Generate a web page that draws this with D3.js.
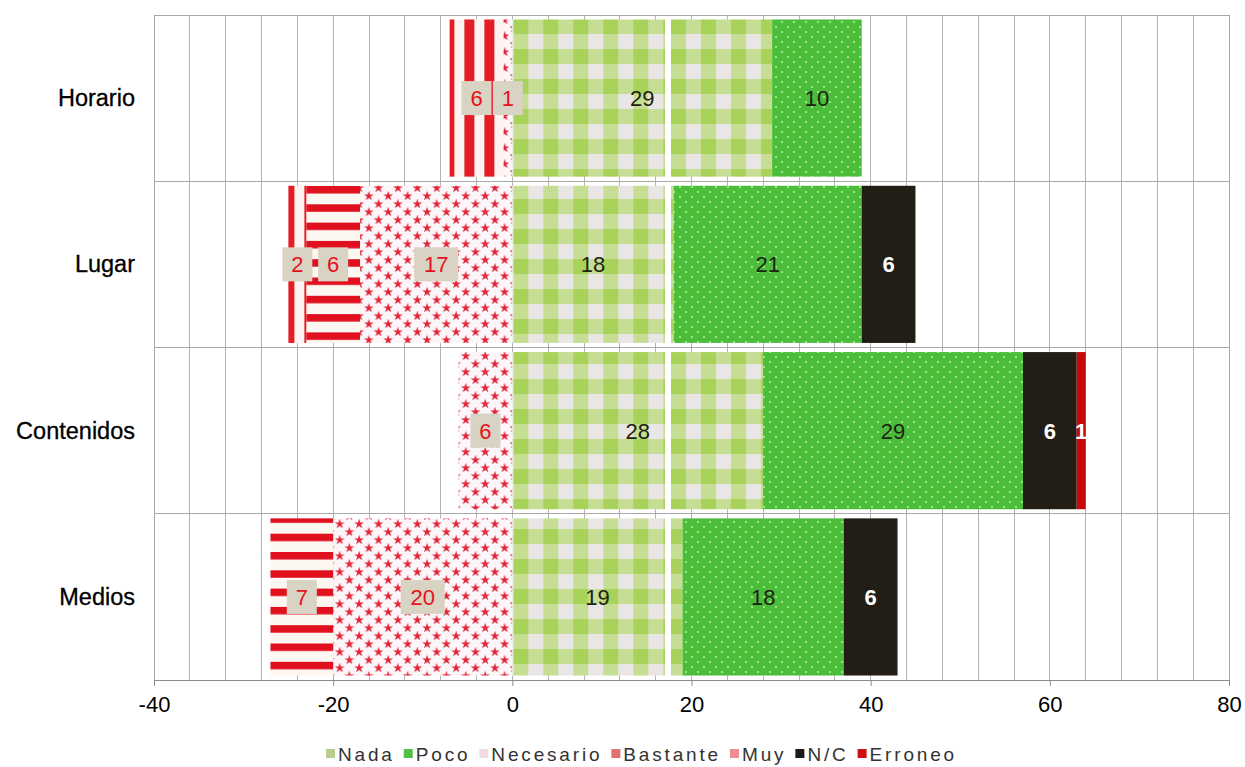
<!DOCTYPE html>
<html><head><meta charset="utf-8">
<script src="https://cdn.jsdelivr.net/npm/d3@7"></script>
<style>
html,body{margin:0;padding:0;background:#fff;}
svg{display:block;font-family:"Liberation Sans",Arial,sans-serif;}
</style></head>
<body>
<svg id="chart" width="1245" height="767"></svg>
<script>
// ---- data ----
const categories = ["Horario","Lugar","Contenidos","Medios"];
const nada      = [29,18,28,19];
const poco      = [10,21,29,18];
const necesario = [1,17,6,20];
const bastante  = [0,6,0,7];
const muy       = [6,2,0,0];
const nc        = [0,6,6,6];
const erroneo   = [0,0,1,0];
const seriesNames = ["Nada","Poco","Necesario","Bastante","Muy","N/C","Erroneo"];
const xTicks = [-40,-20,0,20,40,60,80];

// ---- layout ----
const svg = d3.select("#chart");
const L = 154, R = 1229, T = 15, B = 680;
const x = d3.scaleLinear().domain([-40,80]).range([L,R]);
const y = d3.scaleBand().domain(categories).range([T,B]).paddingInner(0.055).paddingOuter(0.027);
const yRow = d3.scaleBand().domain(categories).range([T,B]);

const defs = svg.append("defs");
// Nada gingham tile (with white seam)
const tileW = x(17.6)-x(0);
const pN = defs.append("pattern").attr("id","pNada").attr("patternUnits","userSpaceOnUse")
  .attr("x",x(0)+1).attr("y",4).attr("width",tileW).attr("height",30);
pN.append("rect").attr("width",tileW).attr("height",30).attr("fill","#ebe6e6");
for(let cx=0; cx<tileW; cx+=30){
  pN.append("rect").attr("x",cx).attr("y",0).attr("width",15).attr("height",30).attr("fill","#c6de94");
  pN.append("rect").attr("x",cx+15).attr("y",15).attr("width",15).attr("height",15).attr("fill","#c6de94");
  pN.append("rect").attr("x",cx).attr("y",15).attr("width",15).attr("height",15).attr("fill","#a8d25a");
}
pN.append("rect").attr("x",tileW-6).attr("y",0).attr("width",6).attr("height",30).attr("fill","#ffffff");

// Poco dots
const pP = defs.append("pattern").attr("id","pPoco").attr("patternUnits","userSpaceOnUse")
  .attr("width",12).attr("height",10);
pP.append("rect").attr("width",12).attr("height",10).attr("fill","#4cbd3b");
pP.append("circle").attr("cx",2).attr("cy",2).attr("r",1.1).attr("fill","#a9f294");
pP.append("circle").attr("cx",8).attr("cy",7).attr("r",1.1).attr("fill","#a9f294");

// Necesario stars
const starPath = d3.symbol(d3.symbolStar, 30)();
const pS = defs.append("pattern").attr("id","pNec").attr("patternUnits","userSpaceOnUse")
  .attr("x",x(0)-3).attr("y",4).attr("width",19.4).attr("height",32);
pS.append("rect").attr("width",19.4).attr("height",32).attr("fill","#fdf6f9");
[[5,8],[5,24],[14.7,0],[14.7,16],[14.7,32]].forEach(([a,b])=>{
  pS.append("path").attr("d",starPath).attr("transform",`translate(${a},${b})`).attr("fill","#e2263c");
});

// Bastante horizontal stripes
const pB = defs.append("pattern").attr("id","pBas").attr("patternUnits","userSpaceOnUse")
  .attr("y",3).attr("width",20).attr("height",18.3);
pB.append("rect").attr("width",20).attr("height",18.3).attr("fill","#fdf7f2");
pB.append("rect").attr("y",0).attr("width",20).attr("height",7.5).attr("fill","#e0101e");

// Muy vertical stripes
const pM = defs.append("pattern").attr("id","pMuy").attr("patternUnits","userSpaceOnUse")
  .attr("x",x(-25)-4).attr("width",20).attr("height",20);
pM.append("rect").attr("width",20).attr("height",20).attr("fill","#fdf3f1");
pM.append("rect").attr("x",0).attr("width",10).attr("height",20).attr("fill","#e61c24");

const fills = {
  "Nada":"url(#pNada)","Poco":"url(#pPoco)","Necesario":"url(#pNec)",
  "Bastante":"url(#pBas)","Muy":"url(#pMuy)","N/C":"#221e16","Erroneo":"#c40a0a"
};
const legendColors = {
  "Nada":"#b8cc8c","Poco":"#52c046","Necesario":"#f3dbe5","Bastante":"#e07272",
  "Muy":"#f08c96","N/C":"#1a1a1a","Erroneo":"#d01010"
};

// ---- grid ----
const gridVals = d3.range(-40,81,4);
svg.append("g").selectAll("line").data(gridVals).join("line")
  .attr("x1",d=>x(d)).attr("x2",d=>x(d)).attr("y1",T).attr("y2",B)
  .attr("stroke","#b4b4b4").attr("stroke-width",1).attr("shape-rendering","crispEdges");
svg.append("g").selectAll("line").data(categories.slice(1)).join("line")
  .attr("x1",L).attr("x2",R).attr("y1",d=>yRow(d)).attr("y2",d=>yRow(d))
  .attr("stroke","#a8a8a8").attr("shape-rendering","crispEdges");
svg.append("rect").attr("x",L).attr("y",T).attr("width",R-L).attr("height",B-T)
  .attr("fill","none").attr("stroke","#a8a8a8").attr("shape-rendering","crispEdges");

// ---- build segments ----
const segs = [];
categories.forEach((c,i)=>{
  let neg = 0;
  [["Necesario",necesario[i]],["Bastante",bastante[i]],["Muy",muy[i]]].forEach(([s,v])=>{
    if(v>0){ segs.push({cat:c,s,v,x0:neg-v,x1:neg,neg:true}); neg-=v; }
  });
  let pos = 0;
  [["Nada",nada[i]],["Poco",poco[i]],["N/C",nc[i]],["Erroneo",erroneo[i]]].forEach(([s,v])=>{
    if(v>0){ segs.push({cat:c,s,v,x0:pos,x1:pos+v,neg:false}); pos+=v; }
  });
});

svg.append("g").selectAll("rect").data(segs).join("rect")
  .attr("x",d=>x(d.x0)).attr("width",d=>x(d.x1)-x(d.x0))
  .attr("y",d=>y(d.cat)).attr("height",y.bandwidth())
  .attr("fill",d=>fills[d.s]);

// labels
const lg = svg.append("g");
segs.forEach(d=>{
  const cx = (x(d.x0)+x(d.x1))/2, cy = y(d.cat)+y.bandwidth()/2;
  const txt = String(d.v);
  if(d.neg){
    const w = txt.length>1 ? 44 : 30;
    lg.append("rect").attr("x",cx-w/2).attr("y",cy-17).attr("width",w).attr("height",34).attr("fill","#d8d3c3");
    lg.append("text").attr("x",cx).attr("y",cy+8).attr("text-anchor","middle")
      .attr("font-size",22).attr("fill","#e8101c").text(txt);
  } else if(d.s==="N/C" || d.s==="Erroneo"){
    lg.append("text").attr("x",cx).attr("y",cy+8).attr("text-anchor","middle")
      .attr("font-size",22).attr("font-weight","bold").attr("fill","#ffffff").text(txt);
  } else {
    lg.append("text").attr("x",cx).attr("y",cy+8).attr("text-anchor","middle")
      .attr("font-size",22).attr("fill","#1c2410").text(txt);
  }
});

// ---- axes ----
const xa = svg.append("g").attr("transform",`translate(0,${B})`)
  .call(d3.axisBottom(x).tickValues(xTicks).tickSize(6).tickSizeOuter(0).tickFormat(d3.format("d")));
xa.select(".domain").attr("stroke","#8c8c8c");
xa.selectAll(".tick line").attr("stroke","#8c8c8c");
xa.selectAll(".tick text").attr("font-size",22).attr("fill","#000").attr("y",11).attr("dy","0.95em")
  .attr("font-family","'Liberation Sans',Arial,sans-serif").text(d=>d<0?"-"+Math.abs(d):String(d));

svg.append("g").selectAll("text").data(categories).join("text")
  .attr("x",135).attr("y",d=>yRow(d)+yRow.bandwidth()/2+8)
  .attr("text-anchor","end").attr("font-size",23.5).attr("fill","#000")
  .attr("stroke","#000").attr("stroke-width",0.3).text(d=>d);

// ---- legend ----
const leg = svg.append("g");
const legendTargetW = 631;
const gap = 9, mGap = 12;
const texts = [];
let natural = 0;
seriesNames.forEach(n=>{
  const t = leg.append("text").attr("font-size",19).attr("fill","#333").text(n);
  natural += t.node().getComputedTextLength();
  texts.push({n,t,chars:n.length});
});
const totalChars = d3.sum(texts,d=>d.chars);
const fixedW = seriesNames.length*mGap + (seriesNames.length-1)*gap;
const ls = Math.max(0,(legendTargetW - fixedW - natural)/totalChars);
let lx = 0;
texts.forEach(({n,t})=>{
  leg.append("rect").attr("x",lx).attr("y",-12).attr("width",9).attr("height",9).attr("fill",legendColors[n]);
  t.attr("x",lx+mGap).attr("y",0).attr("letter-spacing",ls);
  lx += mGap + t.node().getComputedTextLength() + gap;
});
leg.attr("transform",`translate(326,761)`);
</script>
</body></html>
